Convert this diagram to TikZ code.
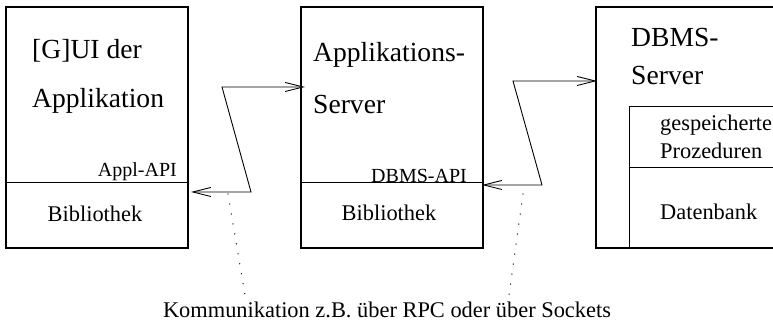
\documentclass[tikz,border=0pt]{standalone}
\usepackage{fontspec}
\setmainfont{Liberation Serif}
\usetikzlibrary{arrows.meta}
\begin{document}
\begin{tikzpicture}[x=1pt,y=-1pt,
  box/.style={draw,line width=1.1pt,rectangle,minimum width=182pt,minimum height=241pt,inner sep=0pt},
  big/.style={inner sep=0pt,font=\fontsize{27.6}{30}\selectfont},
  txt/.style={inner sep=0pt,font=\fontsize{22.4}{26}\selectfont},
  api/.style={inner sep=0pt,font=\fontsize{20}{24}\selectfont},
  link/.style={line width=0.9pt,{Straight Barb[length=18pt,width=9pt]}-{Straight Barb[length=18pt,width=9pt]}},
  dots/.style={line width=1.3pt,line cap=round,dash pattern=on 0.1pt off 10pt}]
\useasboundingbox (0,0) rectangle (773,328);
% boxes
\node[box] (gui) at (97,127.5) {};
\node[box] (app) at (392,127.5) {};
\node[box] (dbms) at (687,127.5) {};
% dividers
\draw[line width=1pt] (gui.west |- 0,183) -- (gui.east |- 0,183);
\draw[line width=1pt] (app.west |- 0,183) -- (app.east |- 0,183);
% inner box of DBMS server
\coordinate (inTL) at (629,107);
\coordinate (inTR) at (780,107);
\coordinate (inML) at (629,168);
\coordinate (inMR) at (780,168);
\coordinate (inBL) at (629,248);
\draw[line width=1pt] (inTR) -- (inTL) -- (inBL);
\draw[line width=1pt] (inML) -- (inMR);
% texts
\node[big,anchor=base west] (t1) at (32,59) {[G]UI der};
\node[big,anchor=base west] (t2) at (32,108) {Applikation};
\node[api,anchor=base east] (t3) at (177,177) {Appl-API};
\node[txt,anchor=base] (t4) at (95,222) {Bibliothek};
\node[big,anchor=base west] (t5) at (313,62) {Applikations-};
\node[big,anchor=base west] (t6) at (313,114) {Server};
\node[api,anchor=base east] (t7) at (467,183) {DBMS-API};
\node[txt,anchor=base] (t8) at (389,221) {Bibliothek};
\node[big,anchor=base west] (t9) at (631,47) {DBMS-};
\node[big,anchor=base west] (t10) at (631,85) {Server};
\node[txt,anchor=base west] (t11) at (660,131) {gespeicherte};
\node[txt,anchor=base west] (t12) at (660,159) {Prozeduren};
\node[txt,anchor=base west] (t13) at (660,220) {Datenbank};
\node[txt,anchor=base] (t14) at (387,318) {Kommunikation z.B. über RPC oder über Sockets};
% connectors
\coordinate (a1) at (191,192);
\coordinate (a2) at (251,192);
\coordinate (a3) at (222,87);
\coordinate (a4) at (305,87);
\draw[link] (a1) -- (a2) -- (a3) -- (a4);
\coordinate (b1) at (482,185);
\coordinate (b2) at (542,185);
\coordinate (b3) at (513,81);
\coordinate (b4) at (597,81);
\draw[link] (b1) -- (b2) -- (b3) -- (b4);
% dotted leaders
\coordinate (d1s) at (228,194);
\coordinate (d1e) at (245,295);
\coordinate (d2s) at (523,194);
\coordinate (d2e) at (509,295);
\draw[dots] (d1s) -- (d1e);
\draw[dots] (d2s) -- (d2e);
\end{tikzpicture}
\end{document}
